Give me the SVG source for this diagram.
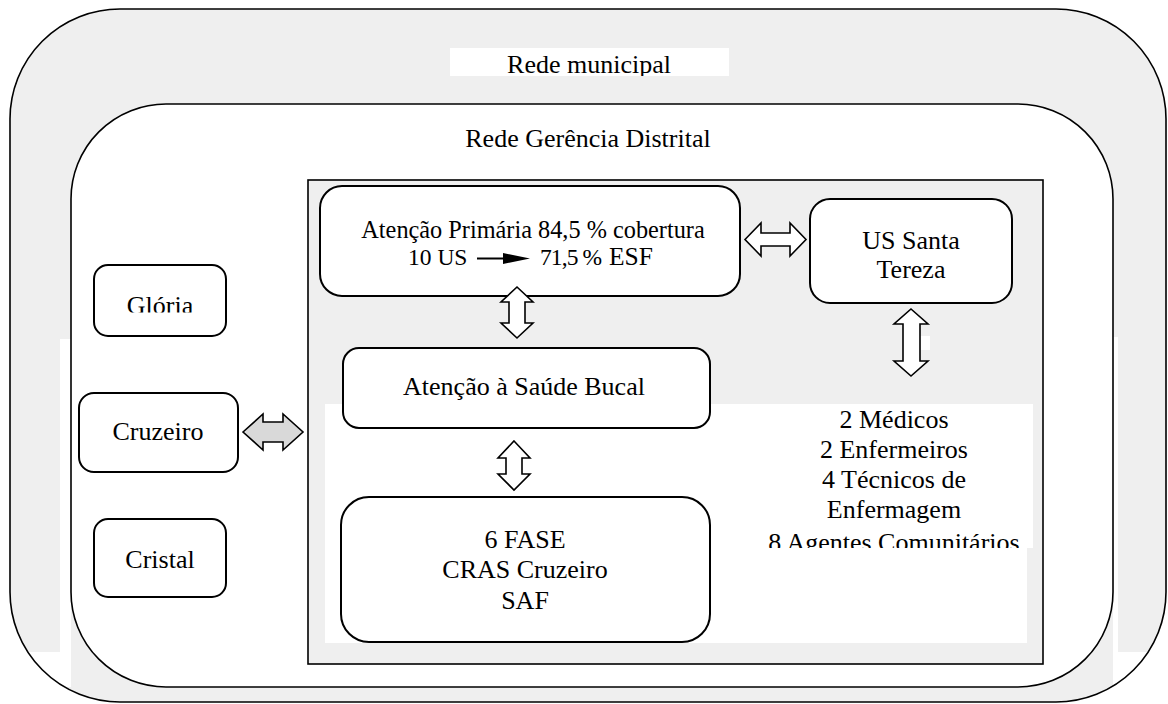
<svg xmlns="http://www.w3.org/2000/svg" width="1168" height="704" viewBox="0 0 1168 704">
<defs>
<style>
.t{font-family:"Liberation Serif","Times New Roman",serif;font-size:26px;fill:#000;text-anchor:middle}
.t24{font-family:"Liberation Serif","Times New Roman",serif;font-size:23.5px;fill:#000}
.node{fill:#fff;stroke:#000;stroke-width:2}
.barrow{fill:#fff;stroke:#000;stroke-width:1.6;stroke-linejoin:miter}
.garrow{fill:#d9d9d9;stroke:#000;stroke-width:1.6}
.patch{fill:#fff}
</style>
<clipPath id="clipMun"><rect x="450" y="48" width="279" height="28"/></clipPath>
<clipPath id="clipGloria"><rect x="94" y="265" width="132" height="47.5"/></clipPath>
<clipPath id="clipStaff"><rect x="700" y="404" width="333" height="144"/></clipPath>
</defs>
<rect width="1168" height="704" fill="#fff"/>

<g id="rede-municipal">
<rect x="10" y="9" width="1156" height="693" rx="110" ry="110" fill="#efefef"/>
</g>
<g id="rede-gerencia">
<rect x="71" y="104" width="1042" height="583" rx="95" ry="95" fill="#fff"/>
</g>
<g id="patches">
<rect class="patch" x="60" y="339" width="11" height="313"/>
<rect class="patch" x="1113" y="337" width="5" height="315"/>
<rect class="patch" x="23" y="652" width="48" height="35"/>
<rect class="patch" x="1113" y="652" width="42" height="35"/>
</g>
<g id="outlines">
<rect x="10" y="9" width="1156" height="693" rx="110" ry="110" fill="none" stroke="#000" stroke-width="1.6"/>
<rect x="71" y="104" width="1042" height="583" rx="95" ry="95" fill="none" stroke="#000" stroke-width="1.6"/>
</g>
<g id="label-municipal">
<rect class="patch" x="450" y="48" width="279" height="28"/>
<text class="t" x="589" y="73" clip-path="url(#clipMun)">Rede municipal</text>
</g>
<g id="label-gerencia">
<text class="t" x="588" y="147">Rede Gerência Distrital</text>
</g>

<g id="servicos">
<rect x="308" y="180" width="735" height="484" fill="#efefef" stroke="#000" stroke-width="1.6"/>
<rect class="patch" x="325" y="404" width="708" height="144"/>
<rect class="patch" x="325" y="548" width="702" height="95"/>
<rect class="patch" x="918" y="336" width="12" height="14"/>
</g>

<g id="atencao-primaria">
<rect class="node" x="320" y="186" width="420" height="110" rx="22" ry="22"/>
<text class="t24" x="533" y="238" text-anchor="middle" style="font-size:24.3px">Atenção Primária 84,5 % cobertura</text>
<text class="t24" x="408" y="265">10 US</text>
<line x1="477" y1="258.5" x2="505" y2="258.5" stroke="#000" stroke-width="2"/>
<polygon points="503,253 530,258.5 503,264" fill="#000"/>
<text class="t24" x="540" y="265" textLength="62" lengthAdjust="spacing">71,5 %</text>
<text x="609" y="265" style="font-family:'Liberation Serif','Times New Roman',serif;font-size:25.5px;fill:#000">ESF</text>
</g>

<g id="us-santa-tereza">
<rect class="node" x="810" y="199" width="202" height="104" rx="20" ry="20"/>
<text class="t" x="911" y="249">US Santa</text>
<text class="t" x="911" y="278">Tereza</text>
</g>

<g id="saude-bucal">
<rect class="node" x="343" y="348" width="367" height="80" rx="16" ry="16"/>
<text class="t" x="524" y="395">Atenção à Saúde Bucal</text>
</g>

<g id="fase">
<rect class="node" x="341" y="497" width="369" height="145" rx="28" ry="28"/>
<text class="t" x="525" y="548">6 FASE</text>
<text class="t" x="525" y="578">CRAS Cruzeiro</text>
<text class="t" x="525" y="609">SAF</text>
</g>

<g id="equipe">
<text class="t" x="894" y="428">2 Médicos</text>
<text class="t" x="894" y="458">2 Enfermeiros</text>
<text class="t" x="894" y="488">4 Técnicos de</text>
<text class="t" x="894" y="518">Enfermagem</text>
<text class="t" x="894" y="551" clip-path="url(#clipStaff)">8 Agentes Comunitários</text>
</g>

<g id="gloria">
<rect class="node" x="94" y="265" width="132" height="71" rx="14" ry="14"/>
<text class="t" x="160" y="314" clip-path="url(#clipGloria)">Glória</text>
</g>

<g id="cruzeiro">
<rect class="node" x="79" y="393" width="159" height="79" rx="15" ry="15"/>
<text class="t" x="158" y="440">Cruzeiro</text>
</g>

<g id="cristal">
<rect class="node" x="94" y="519" width="132" height="78" rx="14" ry="14"/>
<text class="t" x="160" y="568">Cristal</text>
</g>

<g id="connectors">
<polygon class="garrow" points="243,432 263,414 263,422 283,422 283,414 303,432 283,450 283,442 263,442 263,450"/>
<polygon class="barrow" points="745,239.5 761,223 761,233 790,233 790,223 806,239.5 790,256 790,246 761,246 761,256"/>
<polygon class="barrow" points="517,287 533,302 525,302 525,323 533,323 517,338 501,323 509,323 509,302 501,302"/>
<polygon class="barrow" points="514,441 530,458 522,458 522,474 530,474 514,490 498,474 506,474 506,458 498,458"/>
<polygon class="barrow" points="911,309 928,324 920,324 920,361 928,361 911,376 894,361 903,361 903,324 894,324"/>
</g>
</svg>
